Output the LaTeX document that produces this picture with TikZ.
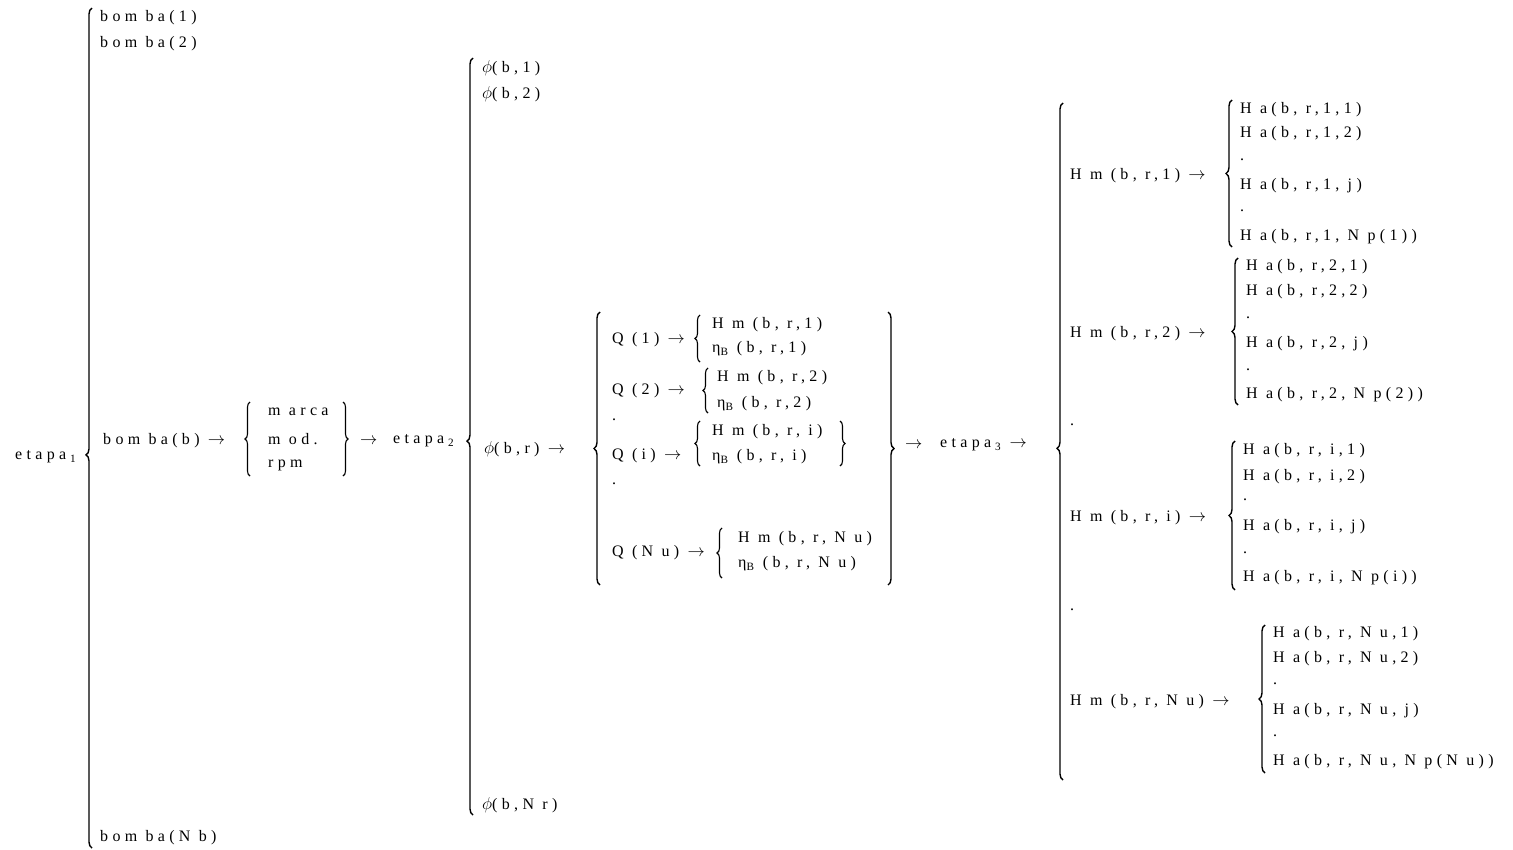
\documentclass[tikz,border=0pt]{standalone}
\usepackage{fontspec}
\setmainfont{Liberation Serif}[LetterSpace=27]
\usetikzlibrary{positioning, decorations.pathreplacing}

\begin{document}
\begin{tikzpicture}[x=1pt, y=-1pt, font=\fontsize{16}{18}\selectfont]
\tikzstyle{item}=[anchor=west, inner sep=0pt]
\tikzstyle{br}=[line width=1.4pt, decorate, decoration={brace, amplitude=6pt}]
\tikzstyle{sbr}=[line width=1.1pt, decorate, decoration={brace, amplitude=5pt}]
\useasboundingbox (0,0) rectangle (1513,849);
% etapa 1
\node[item] (e1) at (15,457) {etapa\kern4pt\textsubscript{1}};
\draw[br, decoration={aspect=0.468}] (92,848) -- (92,8);
\node[item] (b1) at (100,18) {bom ba(1)};
\node[item] (b2) at (100,44) {bom ba(2)};
\node[item] (bb) at (103,441) {bom ba(b) $\rightarrow$};
\node[item] (bn) at (100,838) {bom ba(N b)};
% marca, mod., rpm
\draw[sbr] (250,476) -- (250,402);
\node[item] (marca) at (268,412) {m arca};
\node[item] (mod) at (268,439) {m od.};
\node[item] (rpm) at (268,465) {rpm};
\draw[sbr] (343,402) -- (343,476);
\node[item] (a2) at (360,441) {$\rightarrow$};
\node[item] (e2) at (393,441) {etapa\kern4pt\textsubscript{2}};
% etapa 2
\draw[br, decoration={aspect=0.494}] (473,815) -- (473,58);
\node[item] (f1) at (482,68) {$\phi$(b,1)};
\node[item] (f2) at (482,94) {$\phi$(b,2)};
\node[item] (fr) at (484,449) {$\phi$(b,r) $\rightarrow$};
\node[item] (fn) at (482,805) {$\phi$(b,N r)};
% Q
\draw[br] (600,585) -- (600,312);
\node[item] (q1) at (612,340) {Q (1) $\rightarrow$};
\node[item] (q2) at (612,391) {Q (2) $\rightarrow$};
\node[item] (qd1) at (612,420) {.};
\node[item] (qi) at (612,456) {Q (i) $\rightarrow$};
\node[item] (qd2) at (612,484) {.};
\node[item] (qn) at (612,553) {Q (N u) $\rightarrow$};
\draw[sbr] (700,362) -- (700,315);
\node[item] (hm1) at (712,325) {H m (b, r,1)};
\node[item] (eta1) at (712,349) {η\textsubscript{B} (b, r,1)};
\draw[sbr] (708,413) -- (708,368);
\node[item] (hm2) at (717,378) {H m (b, r,2)};
\node[item] (eta2) at (717,404) {η\textsubscript{B} (b, r,2)};
\draw[sbr] (700,466) -- (700,421);
\node[item] (hmi) at (712,432) {H m (b, r, i)};
\node[item] (etai) at (712,457) {η\textsubscript{B} (b, r, i)};
\draw[sbr] (840,421) -- (840,466);
\draw[sbr] (722,578) -- (722,528);
\node[item] (hmn) at (738,539) {H m (b, r, N u)};
\node[item] (etan) at (738,564) {η\textsubscript{B} (b, r, N u)};
\draw[br] (888,312) -- (888,585);
\node[item] (a3) at (905,445) {$\rightarrow$};
\node[item] (e3) at (940,445) {etapa\kern4pt\textsubscript{3} $\rightarrow$};
% etapa 3
\draw[br, decoration={aspect=0.49}] (1063,780) -- (1063,103);
\node[item] (m1) at (1070,176) {H m (b, r,1) $\rightarrow$};
\node[item] (m2) at (1070,334) {H m (b, r,2) $\rightarrow$};
\node[item] (md1) at (1070,425) {.};
\node[item] (mi) at (1070,518) {H m (b, r, i) $\rightarrow$};
\node[item] (md2) at (1070,610) {.};
\node[item] (mn) at (1070,702) {H m (b, r, N u) $\rightarrow$};
% Ha 1
\draw[br] (1232,247) -- (1232,100);
\node[item] (a11) at (1240,110) {H a(b, r,1,1)};
\node[item] (a12) at (1240,134) {H a(b, r,1,2)};
\node[item] (a1d1) at (1240,160) {.};
\node[item] (a1j) at (1240,186) {H a(b, r,1, j)};
\node[item] (a1d2) at (1240,211) {.};
\node[item] (a1n) at (1240,237) {H a(b, r,1, N p(1))};
% Ha 2
\draw[br] (1238,405) -- (1238,258);
\node[item] (a21) at (1246,267) {H a(b, r,2,1)};
\node[item] (a22) at (1246,292) {H a(b, r,2,2)};
\node[item] (a2d1) at (1246,318) {.};
\node[item] (a2j) at (1246,344) {H a(b, r,2, j)};
\node[item] (a2d2) at (1246,370) {.};
\node[item] (a2n) at (1246,395) {H a(b, r,2, N p(2))};
% Ha i
\draw[br] (1235,590) -- (1235,441);
\node[item] (ai1) at (1243,451) {H a(b, r, i,1)};
\node[item] (ai2) at (1243,477) {H a(b, r, i,2)};
\node[item] (aid1) at (1243,500) {.};
\node[item] (aij) at (1243,527) {H a(b, r, i, j)};
\node[item] (aid2) at (1243,553) {.};
\node[item] (ain) at (1243,578) {H a(b, r, i, N p(i))};
% Ha Nu
\draw[br] (1265,773) -- (1265,625);
\node[item] (an1) at (1273,634) {H a(b, r, N u,1)};
\node[item] (an2) at (1273,659) {H a(b, r, N u,2)};
\node[item] (and1) at (1273,684) {.};
\node[item] (anj) at (1273,711) {H a(b, r, N u, j)};
\node[item] (and2) at (1273,736) {.};
\node[item] (ann) at (1273,762) {H a(b, r, N u, N p(N u))};
\end{tikzpicture}
\end{document}
